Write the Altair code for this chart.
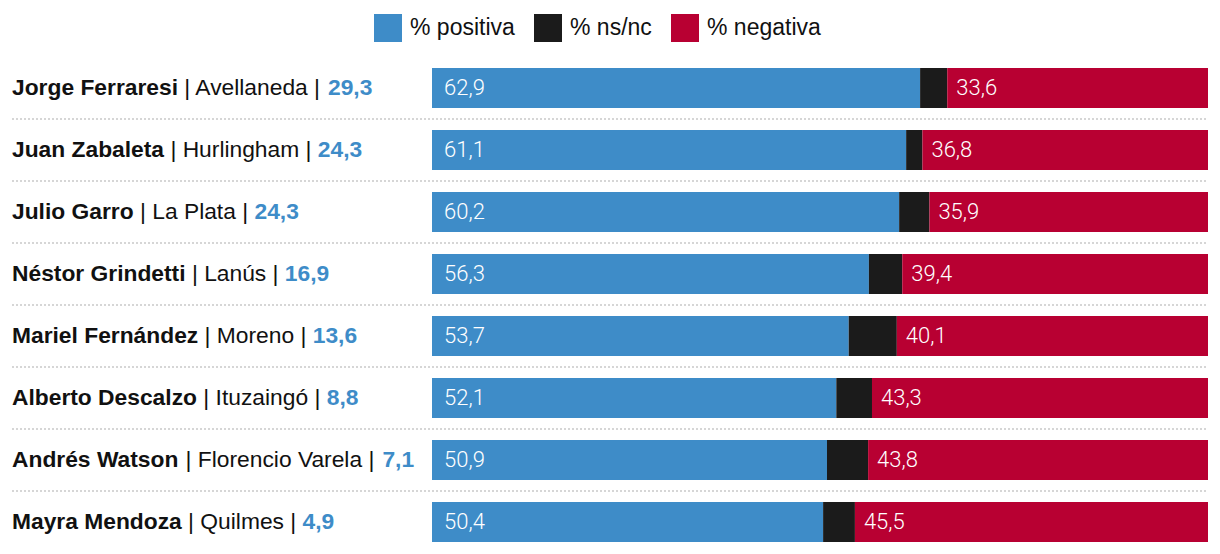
import altair as alt
import pandas as pd

# ---------------- data ----------------
names = ["Jorge Ferraresi", "Juan Zabaleta", "Julio Garro", "Néstor Grindetti",
         "Mariel Fernández", "Alberto Descalzo", "Andrés Watson", "Mayra Mendoza"]
municipios = ["Avellaneda", "Hurlingham", "La Plata", "Lanús",
              "Moreno", "Ituzaingó", "Florencio Varela", "Quilmes"]
puntaje = [29.3, 24.3, 24.3, 16.9, 13.6, 8.8, 7.1, 4.9]
positiva = [62.9, 61.1, 60.2, 56.3, 53.7, 52.1, 50.9, 50.4]
nsnc = [3.5, 2.1, 3.9, 4.3, 6.2, 4.6, 5.3, 4.1]
negativa = [33.6, 36.8, 35.9, 39.4, 40.1, 43.3, 43.8, 45.5]
categorias = ["% positiva", "% ns/nc", "% negativa"]
colores = ["#3e8cc8", "#1b1b1b", "#b80032"]

# ---------------- text metrics (Liberation Sans = Arial metrics, per 1000 em) ----------------
REG = {" ": 278, ",": 278, ".": 278, "|": 260, "%": 889,
       "A": 667, "B": 667, "C": 722, "D": 722, "E": 667, "F": 611, "G": 778, "H": 722, "I": 278,
       "J": 500, "K": 667, "L": 556, "M": 833, "N": 722, "O": 778, "P": 667, "Q": 778, "R": 722,
       "S": 667, "T": 611, "U": 722, "V": 667, "W": 944, "X": 667, "Y": 667, "Z": 611,
       "a": 556, "b": 556, "c": 500, "d": 556, "e": 556, "f": 278, "g": 556, "h": 556, "i": 222,
       "j": 222, "k": 500, "l": 222, "m": 833, "n": 556, "o": 556, "p": 556, "q": 556, "r": 333,
       "s": 500, "t": 278, "u": 556, "v": 500, "w": 722, "x": 500, "y": 500, "z": 500,
       "á": 556, "é": 556, "í": 278, "ó": 556, "ú": 556}
BOLD = {" ": 278, ",": 278, ".": 278, "|": 280, "%": 889,
        "A": 722, "B": 722, "C": 722, "D": 722, "E": 667, "F": 611, "G": 778, "H": 722, "I": 278,
        "J": 556, "K": 722, "L": 611, "M": 833, "N": 722, "O": 778, "P": 667, "Q": 778, "R": 722,
        "S": 667, "T": 611, "U": 722, "V": 667, "W": 944, "X": 667, "Y": 667, "Z": 611,
        "a": 556, "b": 611, "c": 556, "d": 611, "e": 556, "f": 333, "g": 611, "h": 611, "i": 278,
        "j": 278, "k": 556, "l": 278, "m": 889, "n": 611, "o": 611, "p": 611, "q": 611, "r": 389,
        "s": 556, "t": 333, "u": 611, "v": 556, "w": 778, "x": 556, "y": 556, "z": 500,
        "á": 556, "é": 556, "í": 278, "ó": 611, "ú": 611}

FS = 22.8
LABEL_W = 420
BAR_W = 776
W = LABEL_W + BAR_W
H = 496
XMIN = -100 * LABEL_W / BAR_W


def tw(s, table):
    return sum(table.get(c, 556) for c in s) * FS / 1000


def px_to_x(px):
    return XMIN + px * 100 / BAR_W


def fmt(v):
    return f"{v:.1f}".replace(".", ",")


segs = []
rows = []
for i, n in enumerate(names):
    p, q, r = positiva[i], nsnc[i], negativa[i]
    segs.append(dict(name=n, cat=categorias[0], x0=0, x1=p))
    segs.append(dict(name=n, cat=categorias[1], x0=p, x1=p + q))
    segs.append(dict(name=n, cat=categorias[2], x0=p + q, x1=p + q + r))
    mid = f"| {municipios[i]} |"
    w_name = tw(n, BOLD)
    w_sp = tw(" ", REG)
    w_mid = tw(mid, REG)
    rows.append(dict(
        name=n, mid=mid, score=fmt(puntaje[i]),
        x_name=px_to_x(0),
        x_mid=px_to_x(w_name + w_sp),
        x_score=px_to_x(w_name + w_sp + w_mid + w_sp),
        x_pos=0, pos_lbl=fmt(p),
        neg_start=p + q, neg_lbl=fmt(r),
        last=(i == len(names) - 1),
    ))

seg_df = pd.DataFrame(segs)
row_df = pd.DataFrame(rows)

xscale = alt.Scale(domain=[XMIN, 100], nice=False, zero=False)
yenc = alt.Y("name:N", sort=names, axis=None,
             scale=alt.Scale(paddingInner=22 / 62, paddingOuter=11 / 62))

bars = alt.Chart(seg_df).mark_bar(strokeWidth=0).encode(
    x=alt.X("x0:Q", scale=xscale, axis=None),
    x2="x1:Q",
    y=yenc,
    color=alt.Color("cat:N", scale=alt.Scale(domain=categorias, range=colores),
                    legend=alt.Legend(orient="none", legendX=362, legendY=-43,
                                      direction="horizontal", title=None,
                                      symbolType="square", symbolSize=784,
                                      symbolStrokeWidth=0, symbolOpacity=1,
                                      labelFontSize=23, labelFont="Liberation Sans",
                                      labelColor="#111111", labelOffset=8,
                                      columnPadding=19, padding=0)),
)

base = alt.Chart(row_df)

seps = base.transform_filter("!datum.last").mark_rule(
    color="#d6d6d6", strokeDash=[2, 2], strokeWidth=2, yOffset=31
).encode(y=yenc, x=alt.value(0), x2=alt.value("width"))

txt_name = base.mark_text(align="left", baseline="middle", font="Liberation Sans",
                          fontSize=FS, fontWeight="bold", color="#111111").encode(
    x=alt.X("x_name:Q", scale=xscale, axis=None), y=yenc, text="name:N")
txt_mid = base.mark_text(align="left", baseline="middle", font="Liberation Sans",
                         fontSize=FS, fontWeight="normal", color="#111111").encode(
    x=alt.X("x_mid:Q", scale=xscale, axis=None), y=yenc, text="mid:N")
txt_score = base.mark_text(align="left", baseline="middle", font="Liberation Sans",
                           fontSize=FS, fontWeight="bold", color="#3e8cc8").encode(
    x=alt.X("x_score:Q", scale=xscale, axis=None), y=yenc, text="score:N")

lbl_pos = base.mark_text(align="left", baseline="middle", dx=12, font="Roboto",
                         fontWeight=300, fontSize=22, color="white").encode(
    x=alt.X("x_pos:Q", scale=xscale, axis=None), y=yenc, text="pos_lbl:N")
lbl_neg = base.mark_text(align="left", baseline="middle", dx=9, font="Roboto",
                         fontWeight=300, fontSize=22, color="white").encode(
    x=alt.X("neg_start:Q", scale=xscale, axis=None), y=yenc, text="neg_lbl:N")

chart = alt.layer(seps, bars, txt_name, txt_mid, txt_score, lbl_pos, lbl_neg).properties(
    width=W, height=H,
    padding={"left": 4, "top": 49, "right": 4, "bottom": 0},
    autosize=alt.AutoSizeParams(type="none"),
    background="white",
).configure_view(stroke=None)

chart.save("out.html", embed_options={"renderer": "svg", "actions": False})
